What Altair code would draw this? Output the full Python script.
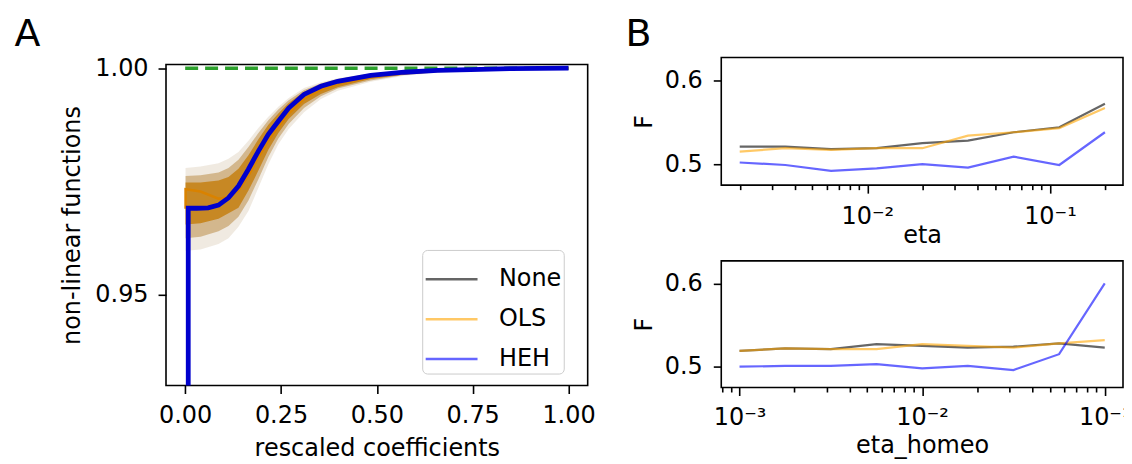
import altair as alt
import pandas as pd

FONT = "DejaVu Sans"
FS = 24

# ---------------- Panel A data ----------------
a_heh_x = [0.008, 0.008, 0.03, 0.06, 0.087, 0.113, 0.139, 0.165, 0.191, 0.217, 0.243,
           0.27, 0.31, 0.354, 0.398, 0.484, 0.571, 0.658, 0.745, 0.85, 1.0]
a_heh_y = [0.900, 0.9691, 0.9691, 0.9692, 0.9698, 0.9714, 0.9740, 0.9777, 0.9817, 0.9854, 0.9883,
           0.9912, 0.9942, 0.9960, 0.9971, 0.9984, 0.9991, 0.9995, 0.9997, 0.9999, 1.0]
a_ols_x = [0.001, 0.001, 0.04, 0.087, 0.113, 0.139, 0.165, 0.191, 0.217, 0.243, 0.27,
           0.31, 0.354, 0.398, 0.484, 0.571, 0.658, 0.745, 0.85, 1.0]
a_ols_y = [0.9690, 0.9733, 0.9728, 0.9712, 0.9716, 0.9730, 0.9763, 0.9803, 0.9840, 0.9871, 0.9900,
           0.9932, 0.9952, 0.9965, 0.9980, 0.9989, 0.9994, 0.9996, 0.9999, 1.0]

band_x = [0.001, 0.04, 0.087, 0.113, 0.139, 0.165, 0.191, 0.217, 0.243, 0.27, 0.31, 0.354,
          0.398, 0.484, 0.571, 0.658, 0.745, 0.85, 1.0]
outer_hi = [0.9780, 0.9783, 0.9790, 0.9800, 0.9815, 0.9840, 0.9868, 0.9893, 0.9915, 0.9934, 0.9956,
            0.9969, 0.9978, 0.9989, 0.9994, 0.9997, 0.9999, 1.0000, 1.0]
outer_lo = [0.9597, 0.9600, 0.9612, 0.9625, 0.9650, 0.9685, 0.9736, 0.9788, 0.9832, 0.9866, 0.9903,
            0.9932, 0.9950, 0.9970, 0.9983, 0.9990, 0.9994, 0.9998, 1.0]
mid_hi = [0.9762, 0.9764, 0.9770, 0.9780, 0.9798, 0.9826, 0.9857, 0.9885, 0.9909, 0.9929, 0.9952,
          0.9966, 0.9976, 0.9988, 0.9993, 0.9996, 0.9998, 1.0000, 1.0]
mid_lo = [0.9625, 0.9628, 0.9640, 0.9652, 0.9672, 0.9708, 0.9755, 0.9804, 0.9845, 0.9877, 0.9912,
          0.9938, 0.9955, 0.9973, 0.9985, 0.9991, 0.9995, 0.9998, 1.0]
dark_hi = [0.9748, 0.9748, 0.9752, 0.9760, 0.9778, 0.9808, 0.9843, 0.9875, 0.9900, 0.9923, 0.9948,
           0.9964, 0.9974, 0.9987, 0.9993, 0.9996, 0.9998, 0.9999, 1.0]
dark_lo = [0.9655, 0.9658, 0.9668, 0.9680, 0.9692, 0.9730, 0.9774, 0.9820, 0.9857, 0.9888, 0.9921,
           0.9943, 0.9958, 0.9976, 0.9986, 0.9992, 0.9996, 0.9998, 1.0]

target_x = [0.0, 1.0]
target_y = [1.0, 1.0]

panel_labels = ["A", "B"]

# ---------------- Panel B data ----------------
series = ["None", "OLS", "HEH"]
colors = ["#000000", "#ffa500", "#0000ff"]

eta = [0.002, 0.003557, 0.006325, 0.011247, 0.02, 0.035566, 0.063246, 0.112468, 0.2]
F_eta = {
    "None": [0.521, 0.521, 0.518, 0.519, 0.525, 0.528, 0.538, 0.544, 0.572],
    "OLS": [0.515, 0.519, 0.517, 0.519, 0.519, 0.534, 0.538, 0.543, 0.567],
    "HEH": [0.502, 0.499, 0.492, 0.495, 0.500, 0.496, 0.509, 0.499, 0.538],
}
eta_homeo = [0.001, 0.001778, 0.003162, 0.005623, 0.01, 0.017783, 0.031623, 0.056234, 0.1]
F_homeo = {
    "None": [0.519, 0.522, 0.521, 0.527, 0.525, 0.523, 0.524, 0.528, 0.523],
    "OLS": [0.519, 0.522, 0.521, 0.521, 0.527, 0.525, 0.523, 0.528, 0.532],
    "HEH": [0.500, 0.501, 0.501, 0.503, 0.498, 0.501, 0.496, 0.515, 0.600],
}

ticks_b1 = [0.002, 0.003, 0.004, 0.005, 0.006, 0.007, 0.008, 0.009, 0.01,
            0.02, 0.03, 0.04, 0.05, 0.06, 0.07, 0.08, 0.09, 0.1, 0.2]
ticks_b2 = [0.0008, 0.0009, 0.001, 0.002, 0.003, 0.004, 0.005, 0.006, 0.007, 0.008, 0.009,
            0.01, 0.02, 0.03, 0.04, 0.05, 0.06, 0.07, 0.08, 0.09, 0.1]


def long_df(xs, d):
    rows = []
    for s in series:
        for i, (xv, yv) in enumerate(zip(xs, d[s])):
            rows.append({"eta": xv, "F": yv, "series": s, "idx": i})
    return pd.DataFrame(rows)


df_b1 = long_df(eta, F_eta)
df_b2 = long_df(eta_homeo, F_homeo)

# ---------------- Panel A chart ----------------
xA = alt.X("x:Q", scale=alt.Scale(domain=[-0.05, 1.05], nice=False, zero=False),
           axis=alt.Axis(values=[0, 0.25, 0.5, 0.75, 1.0], format=".2f",
                         title="rescaled coefficients", labelPadding=10, titlePadding=9.5,
                         labelFlush=False))
yA = alt.Y("y:Q", scale=alt.Scale(domain=[0.930, 1.0008], nice=False, zero=False),
           axis=alt.Axis(values=[0.95, 1.0], format=".2f", title="non-linear functions",
                         labelPadding=10, titlePadding=10, labelFlush=False))


def band_df(lo, hi):
    return pd.DataFrame({"x": band_x, "y": lo, "y2": hi})


bands = []
for lo, hi, col, op in [(outer_lo, outer_hi, "#a47a44", 0.16),
                        (mid_lo, mid_hi, "#b07a28", 0.45),
                        (dark_lo, dark_hi, "#c47c0a", 0.8)]:
    bands.append(alt.Chart(band_df(lo, hi)).mark_area(color=col, opacity=op, clip=True)
                 .encode(x=xA, y=yA, y2="y2:Q"))

target = alt.Chart(pd.DataFrame({"x": target_x, "y": target_y})).mark_line(
    color="#2ca02c", strokeWidth=3.5, strokeDash=[13, 7], clip=True).encode(x=xA, y=yA)

ols_line = alt.Chart(pd.DataFrame({"x": a_ols_x, "y": a_ols_y, "o": list(range(len(a_ols_x)))})).mark_line(
    color="#d98200", strokeWidth=2.5, clip=True).encode(x=xA, y=yA, order="o:Q")

heh_line = alt.Chart(pd.DataFrame({"x": a_heh_x, "y": a_heh_y, "o": list(range(len(a_heh_x)))})).mark_line(
    color="#0000cd", strokeWidth=4.8, clip=True).encode(x=xA, y=yA, order="o:Q")

legend_layer = alt.Chart(df_b1.rename(columns={"eta": "x", "F": "y"})).mark_line(
    opacity=0, clip=True).encode(
    x=xA, y=yA,
    color=alt.Color("series:N", scale=alt.Scale(domain=series, range=colors),
                    sort=series,
                    legend=alt.Legend(title=None, orient="none", legendX=257, legendY=186,
                                      labelFont=FONT, labelFontSize=FS, labelColor="black",
                                      symbolType="stroke", symbolSize=2704,
                                      symbolStrokeWidth=2.5, symbolOpacity=0.6,
                                      labelOffset=20, rowPadding=-6.1, padding=2,
                                      fillColor="rgba(255,255,255,0.8)",
                                      strokeColor="#cccccc", cornerRadius=5)))

label_a = alt.Chart(pd.DataFrame({"t": panel_labels[:1]})).mark_text(
    fontSize=38, font=FONT, align="left", baseline="alphabetic", color="black").encode(
    x=alt.value(-152), y=alt.value(-19), text="t:N")

chartA = alt.layer(*bands, target, ols_line, heh_line, legend_layer, label_a).properties(
    width=423, height=322)

spacer = alt.Chart(pd.DataFrame({"v": [0]})).mark_point(opacity=0).encode(
    x=alt.X("v:Q", axis=None), y=alt.Y("v:Q", axis=None)).properties(
    width=423, height=1, view=alt.ViewBackground(stroke="transparent"))

# ---------------- Panel B charts ----------------
k = "(log(datum.value)/LN10)"
maj = f"abs({k} - round({k})) < 0.001"
label_expr = (f"{maj} ? (round({k}) == -1 ? '10⁻¹' : (round({k}) == -2 ? '10⁻²' : '10⁻³')) : ''")
tick_cond = {"condition": {"test": maj, "value": 8}, "value": 4.5}


def panel_b(df, dom, ticks, xtitle, h, lpad, tpad, extra=None):
    enc = dict(
        x=alt.X("eta:Q", scale=alt.Scale(type="log", domain=dom, nice=False),
                axis=alt.Axis(values=ticks, labelExpr=label_expr, tickSize=tick_cond,
                              title=xtitle, labelOverlap=False, labelFlush=False,
                              labelPadding=lpad, titlePadding=tpad)),
        y=alt.Y("F:Q", scale=alt.Scale(domain=[0.475, 0.627], nice=False, zero=False),
                axis=alt.Axis(values=[0.5, 0.6], format=".1f", title="F",
                              labelPadding=11, titlePadding=7.5, labelFlush=False)),
        color=alt.Color("series:N", scale=alt.Scale(domain=series, range=colors), legend=None),
        order="idx:Q",
    )
    ch = alt.Chart(df).mark_line(strokeWidth=2.2, opacity=0.6, clip=True).encode(**enc)
    if extra is not None:
        ch = alt.layer(ch, extra)
    return ch.properties(width=403, height=h)


label_b = alt.Chart(pd.DataFrame({"t": panel_labels[1:]})).mark_text(
    fontSize=38, font=FONT, align="left", baseline="alphabetic", color="black").encode(
    x=alt.value(-96), y=alt.value(-12), text="t:N")

chartB1 = panel_b(df_b1, [0.0015849, 0.25119], ticks_b1, "eta", 128, 11, -4, label_b)
chartB2 = panel_b(df_b2, [0.00079433, 0.12589], ticks_b2, "eta_homeo", 127, 10, 4)

colA = alt.vconcat(spacer, chartA, spacing=6, bounds="flush").resolve_scale(color="independent")
colB = alt.vconcat(chartB1, chartB2, spacing=76, bounds="flush").resolve_scale(color="independent")

chart = alt.hconcat(colA, colB, spacing=28).resolve_scale(
    color="independent").properties(
    padding={"left": 5.5, "top": 6, "right": -8, "bottom": -4}
).configure_view(stroke="black", strokeWidth=1.6).configure_axis(
    labelFont=FONT, labelFontSize=FS, titleFont=FONT, titleFontSize=FS,
    titleFontWeight="normal", labelColor="black", titleColor="black",
    tickColor="black", tickWidth=1.6, tickSize=8, domain=False, grid=False
)

chart.save("out.html", embed_options={"renderer": "svg", "actions": False})
